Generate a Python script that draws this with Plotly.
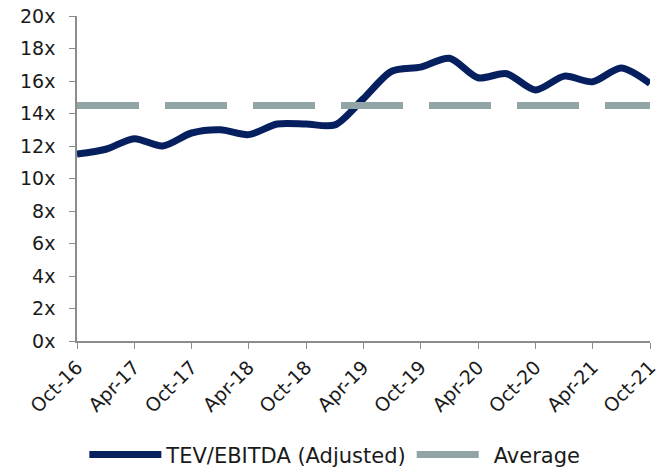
import plotly.graph_objects as go

# quarterly TEV/EBITDA multiples
dates = ["2016-10-01", "2017-01-01", "2017-04-01", "2017-07-01", "2017-10-01",
         "2018-01-01", "2018-04-01", "2018-07-01", "2018-10-01", "2019-01-01",
         "2019-04-01", "2019-07-01", "2019-10-01", "2020-01-01", "2020-04-01",
         "2020-07-01", "2020-10-01", "2021-01-01", "2021-04-01", "2021-07-01",
         "2021-10-01"]
tev_ebitda = [11.5, 11.8, 12.45, 12.0, 12.8, 13.0, 12.7, 13.35, 13.35, 13.3,
              14.9, 16.6, 16.85, 17.4, 16.2, 16.45, 15.45, 16.3, 15.95, 16.8,
              15.85]
average = [14.5] * len(dates)

tick_dates = ["2016-10-01", "2017-04-01", "2017-10-01", "2018-04-01", "2018-10-01",
              "2019-04-01", "2019-10-01", "2020-04-01", "2020-10-01", "2021-04-01",
              "2021-10-01"]
tick_labels = ["Oct-16", "Apr-17", "Oct-17", "Apr-18", "Oct-18", "Apr-19",
               "Oct-19", "Apr-20", "Oct-20", "Apr-21", "Oct-21"]
y_ticks = list(range(0, 21, 2))
y_labels = [f"{v}x" for v in y_ticks]

NAVY = "#06205F"
GREY = "#91A4A6"
AXIS = "#8c8c8c"

fig = go.Figure()
fig.add_trace(go.Scatter(x=dates, y=tev_ebitda, mode="lines", name="TEV/EBITDA (Adjusted)",
                         line=dict(color=NAVY, width=7, shape="spline", smoothing=0.8)))
fig.add_trace(go.Scatter(x=dates, y=average, mode="lines", name="Average",
                         line=dict(color=GREY, width=7, dash="62px,26px")))

fig.update_layout(
    width=661, height=469,
    margin=dict(l=77, r=11, t=16, b=128, autoexpand=False),
    paper_bgcolor="white", plot_bgcolor="white",
    font=dict(family="DejaVu Sans, sans-serif", size=19, color="#1a1a1a"),
    showlegend=True,
    legend=dict(orientation="h", x=0.45, xref="paper", xanchor="center",
                y=0.03, yref="container", yanchor="middle",
                font=dict(size=21), itemwidth=72),
)
fig.update_xaxes(type="date", range=["2016-10-01", "2021-10-01"],
                 tickvals=tick_dates, ticktext=tick_labels, tickangle=-45,
                 showgrid=False, zeroline=False, showline=True, linecolor=AXIS,
                 linewidth=1.5, ticks="outside", ticklen=6, tickcolor=AXIS,
                 automargin=False, ticklabeloverflow="allow")
fig.update_yaxes(range=[0, 20], tickvals=y_ticks, ticktext=y_labels,
                 showgrid=False, zeroline=False, showline=True, linecolor=AXIS,
                 linewidth=1.5, ticks="outside", ticklen=6, tickcolor=AXIS,
                 ticklabelstandoff=10, automargin=False, ticklabeloverflow="allow")

# drop the default 8px body margin so the figure fills the window
fig.write_html("out.html", config={"displayModeBar": False},
               post_script="document.body.style.margin = '0';")
